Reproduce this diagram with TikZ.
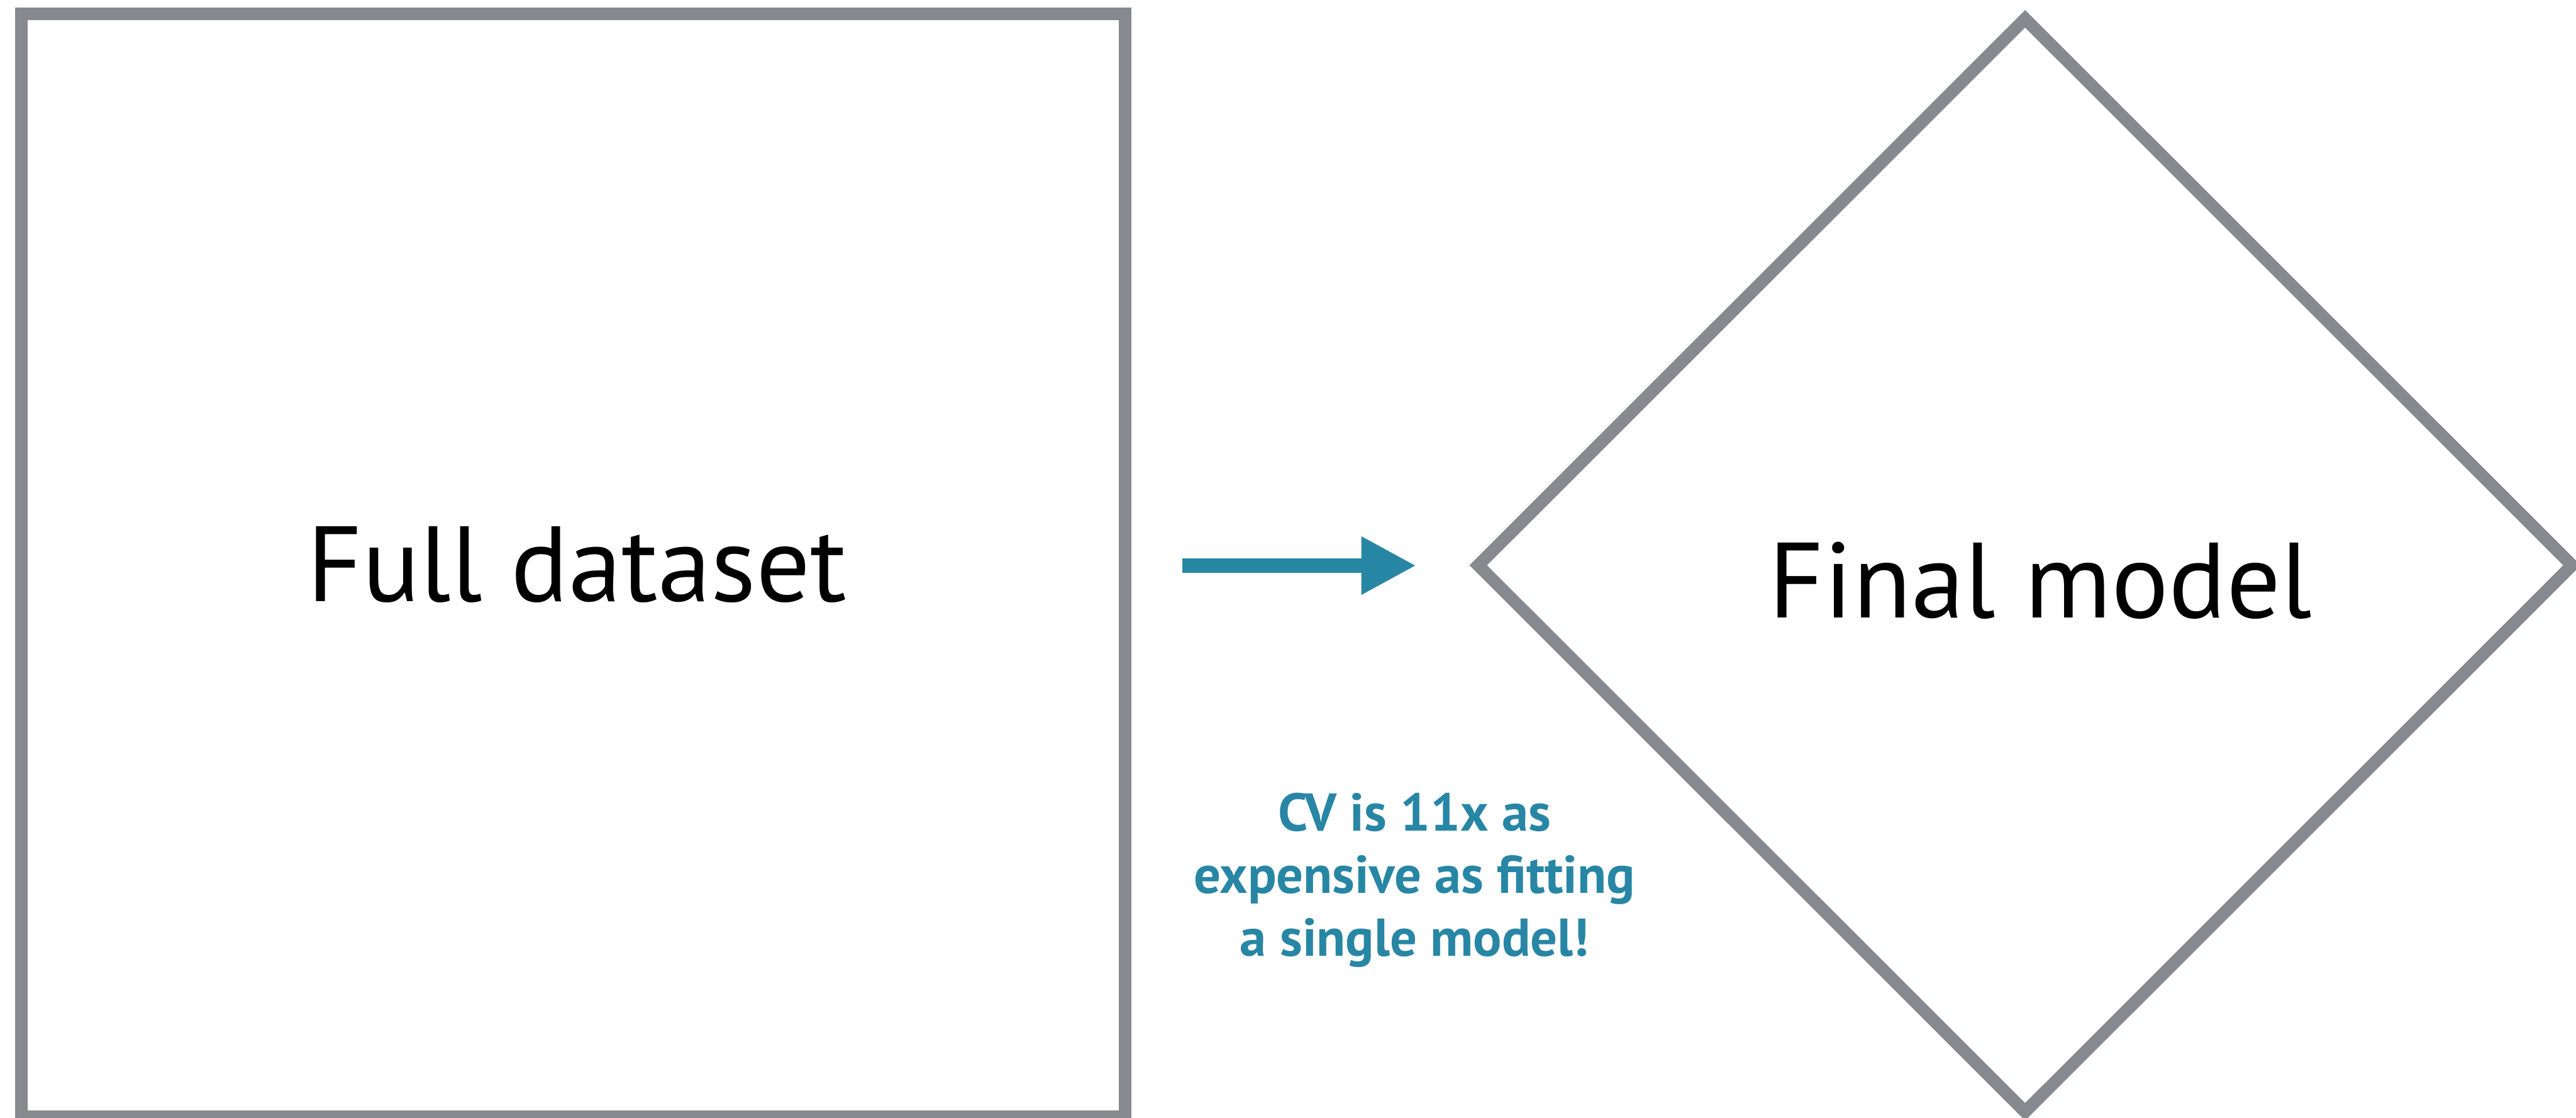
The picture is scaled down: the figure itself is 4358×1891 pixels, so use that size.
\documentclass[tikz,border=0pt]{standalone}
\usepackage{fontspec}
\setmainfont{PT Sans}
\usetikzlibrary{arrows.meta,shapes.geometric}
\definecolor{boxgray}{HTML}{86898E}
\definecolor{cvteal}{HTML}{2886A5}
\begin{document}
\begin{tikzpicture}[x=0.01cm,y=-0.01cm,
  shapeline/.style={draw=boxgray,line width=0.21cm,inner sep=0pt,miter limit=10},
  biglabel/.style={font=\fontsize{51.5}{60}\selectfont,text=black,inner sep=0pt,anchor=base},
  note/.style={font=\bfseries\fontsize{25.6}{30.2}\selectfont,text=cvteal,align=center,inner sep=0pt,anchor=base},
  flow/.style={draw=cvteal,line width=0.24cm,-{Triangle[length=0.93cm,width=0.92cm]}}]
\useasboundingbox (0,0) rectangle (4358,1891);
\node[shapeline,rectangle,minimum width=18.66cm,minimum height=18.65cm] (full) at (970,956.5) {};
\node[biglabel] (fulltxt) at (976,1018) {Full dataset};
\node[shapeline,diamond,minimum width=18.58cm,minimum height=18.57cm] (final) at (3426,956.5) {};
\node[biglabel] (finaltxt) at (3452,1045) {Final model};
\coordinate (arrowstart) at (2000,957);
\coordinate (arrowend) at (2396,957);
\draw[flow] (arrowstart) -- (arrowend);
\node[note] (cvnote) at (2393,1618) {CV is 11x as\\expensive as fitting\\a single model!};
\end{tikzpicture}
\end{document}
